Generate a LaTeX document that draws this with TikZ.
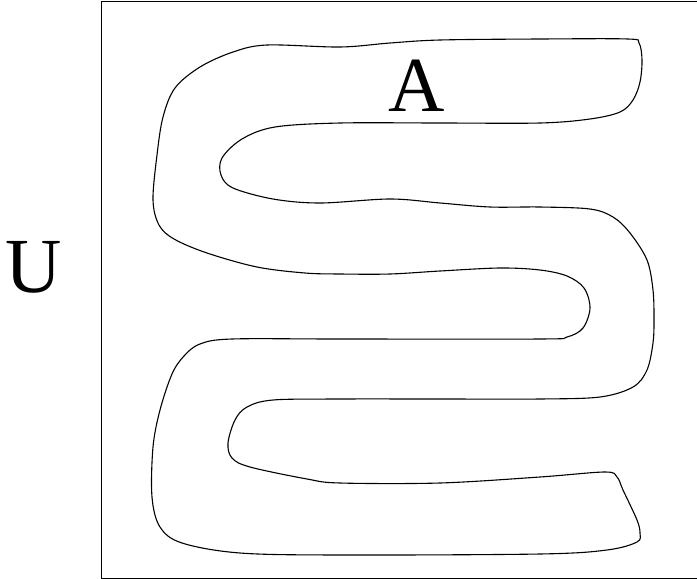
\documentclass[tikz,border=0pt]{standalone}
\usepackage{fontspec}
\setmainfont{Liberation Serif}
\begin{document}
\begin{tikzpicture}[x=1pt,y=-1pt,
  frame/.style={draw=black,line width=1pt},
  region/.style={draw=black,line width=1.1pt},
  biglabel/.style={font=\fontsize{78}{80}\selectfont,inner sep=0pt,anchor=base}]
\useasboundingbox (0,0) rectangle (697,579);
\draw[frame] (698,1) -- (101,1) -- (101,578) -- (698,578);
\draw[region] plot[smooth cycle, tension=0.55] coordinates {
(267,45) (340,47) (390,43) (440,40) (540,39) (628,39)
(639,43) (642,60) (640,82) (633,100) (620,112) (590,119) (540,123)
(440,123) (340,123) (275,127) (242,139) (222,158) (221,175) (233,188)
(273,199) (320,203) (390,199) (440,203) (490,207) (540,207)
(590,209) (613,217) (630,233) (647,260) (653,290) (654,320) (653,343)
(647,370) (633,387) (600,397) (540,399) (440,399) (340,399) (273,400)
(247,407) (235,420) (228,443) (232,458) (250,467) (307,479) (340,483)
(440,483) (540,477) (605,472) (617,477) (623,490) (637,520) (640,533)
(637,542) (607,550) (540,554) (340,555) (240,553) (182,543) (160,527)
(152,497) (153,447) (160,410) (172,374) (184,356) (200,344) (232,339)
(340,339) (540,339) (567,337) (583,328) (590,308) (584,288) (567,276)
(540,270) (500,268) (440,271) (390,274) (340,274) (305,273) (257,267)
(207,253) (174,239) (159,225) (153,200) (157,155) (163,117) (175,88)
(200,67) (233,52)};
\node[biglabel] (A) at (417,111) {A};
\node[biglabel] (U) at (33.5,292) {U};
\end{tikzpicture}
\end{document}
